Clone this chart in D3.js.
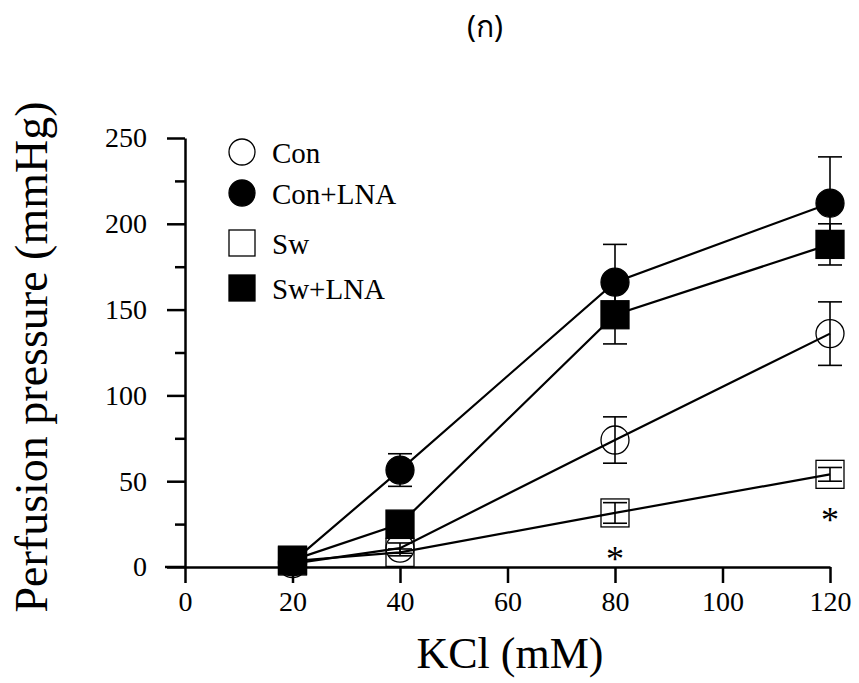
<!DOCTYPE html>
<html>
<head>
<meta charset="utf-8">
<script src="https://cdn.jsdelivr.net/npm/d3@7"></script>
<style>
  body { margin: 0; background: #fff; }
  svg { display: block; }
</style>
</head>
<body>
<svg id="chart" width="859" height="683"></svg>
<script>
// data
var kcl = [20, 40, 80, 120];
var seriesNames = ["Con", "Con+LNA", "Sw", "Sw+LNA"];
var con       = [2, 11, 74, 136];
var conErr    = [0, 3, 13.5, 18.5];
var conLna    = [3, 56.5, 166, 212];
var conLnaErr = [0, 9.5, 22, 27];
var sw        = [3.5, 8.5, 31.5, 54];
var swErr     = [0, 2, 6, 4];
var swLna     = [4, 25, 147, 188];
var swLnaErr  = [2, 3, 17, 12];
var starAt    = [80, 120];   // significant points on the Sw curve
var xTicks = [0, 20, 40, 60, 80, 100, 120];
var yTicks = [0, 50, 100, 150, 200, 250];
var yMinor = [25, 75, 125, 175, 225];

var series = [
  {name: seriesNames[0], values: con,    err: conErr,    shape: "circle", filled: false},
  {name: seriesNames[1], values: conLna, err: conLnaErr, shape: "circle", filled: true},
  {name: seriesNames[2], values: sw,     err: swErr,     shape: "square", filled: false},
  {name: seriesNames[3], values: swLna,  err: swLnaErr,  shape: "square", filled: true}
];

var serif = "'Liberation Serif', 'Times New Roman', serif";
var svg = d3.select("#chart");

var x = d3.scaleLinear().domain([0, 120]).range([185, 830]);
var y = d3.scaleLinear().domain([0, 250]).range([567, 138]);

// title
svg.append("text")
  .attr("x", 485).attr("y", 37)
  .attr("text-anchor", "middle")
  .style("font-family", "'Noto Sans', 'DejaVu Sans', sans-serif")
  .style("font-size", "30px")
  .text("(ก)");

// axes
svg.append("g")
  .attr("transform", "translate(0," + y(0) + ")")
  .call(d3.axisBottom(x).tickValues(xTicks).tickSize(16).tickPadding(8).tickSizeOuter(0));

svg.append("g")
  .attr("transform", "translate(" + x(0) + ",0)")
  .call(d3.axisLeft(y).tickValues(yTicks).tickSize(18).tickPadding(20).tickSizeOuter(0));

svg.append("g")
  .attr("transform", "translate(" + x(0) + ",0)")
  .call(d3.axisLeft(y).tickValues(yMinor).tickSize(10).tickFormat(""))
  .select(".domain").remove();

svg.selectAll(".domain").attr("stroke-width", 2.5);
svg.selectAll(".tick line").attr("stroke-width", 2.5);
svg.selectAll(".tick text")
  .style("font-family", serif)
  .style("font-size", "28px")
  .attr("fill", "#000");

// x axis line runs a little left of the y axis
svg.append("line")
  .attr("x1", x(0) - 20).attr("x2", x(0))
  .attr("y1", y(0)).attr("y2", y(0))
  .attr("stroke", "#000").attr("stroke-width", 2.5);

// axis titles
svg.append("text")
  .attr("x", 510).attr("y", 668)
  .attr("text-anchor", "middle")
  .style("font-family", serif)
  .style("font-size", "44px")
  .text("KCl (mM)");

svg.append("text")
  .attr("transform", "translate(47,357) rotate(-90)")
  .attr("text-anchor", "middle")
  .style("font-family", serif)
  .style("font-size", "46px")
  .text("Perfusion pressure (mmHg)");

// lines
var line = d3.line()
  .x(function(d, i) { return x(kcl[i]); })
  .y(function(d) { return y(d); });

svg.selectAll(".series-line")
  .data(series)
  .enter().append("path")
  .attr("class", "series-line")
  .attr("d", function(s) { return line(s.values); })
  .attr("fill", "none")
  .attr("stroke", "#000")
  .attr("stroke-width", 2.2);

// error bars
var cap = 12;
series.forEach(function(s) {
  var g = svg.append("g").attr("stroke", "#000").attr("stroke-width", 1.6);
  s.values.forEach(function(v, i) {
    if (!s.err[i]) return;
    var cx = x(kcl[i]);
    var top = y(v + s.err[i]), bot = y(v - s.err[i]);
    g.append("line").attr("x1", cx).attr("x2", cx).attr("y1", top).attr("y2", bot);
    g.append("line").attr("x1", cx - cap).attr("x2", cx + cap).attr("y1", top).attr("y2", top);
    g.append("line").attr("x1", cx - cap).attr("x2", cx + cap).attr("y1", bot).attr("y2", bot);
  });
});

// markers
function drawMarker(g, shape, filled, cx, cy, size) {
  var m;
  if (shape === "circle") {
    m = g.append("circle").attr("cx", cx).attr("cy", cy).attr("r", size / 2);
  } else {
    m = g.append("rect").attr("x", cx - size / 2).attr("y", cy - size / 2)
      .attr("width", size).attr("height", size);
  }
  m.attr("fill", filled ? "#000" : "none")
    .attr("stroke", "#000")
    .attr("stroke-width", 1.3);
}

series.forEach(function(s) {
  var g = svg.append("g");
  s.values.forEach(function(v, i) {
    drawMarker(g, s.shape, s.filled, x(kcl[i]), y(v), 28);
  });
});

// asterisks under Sw points
starAt.forEach(function(k) {
  var i = kcl.indexOf(k);
  svg.append("text")
    .attr("x", x(k)).attr("y", y(sw[i]) + 58)
    .attr("text-anchor", "middle")
    .style("font-family", serif)
    .style("font-size", "36px")
    .text("*");
});

// legend
var legendY = [152, 193, 243, 288];
var legend = svg.append("g");
series.forEach(function(s, i) {
  drawMarker(legend, s.shape, s.filled, 242, legendY[i], 26);
  legend.append("text")
    .attr("x", 272).attr("y", legendY[i] + 11)
    .style("font-family", serif)
    .style("font-size", "29px")
    .text(s.name);
});
</script>
</body>
</html>
